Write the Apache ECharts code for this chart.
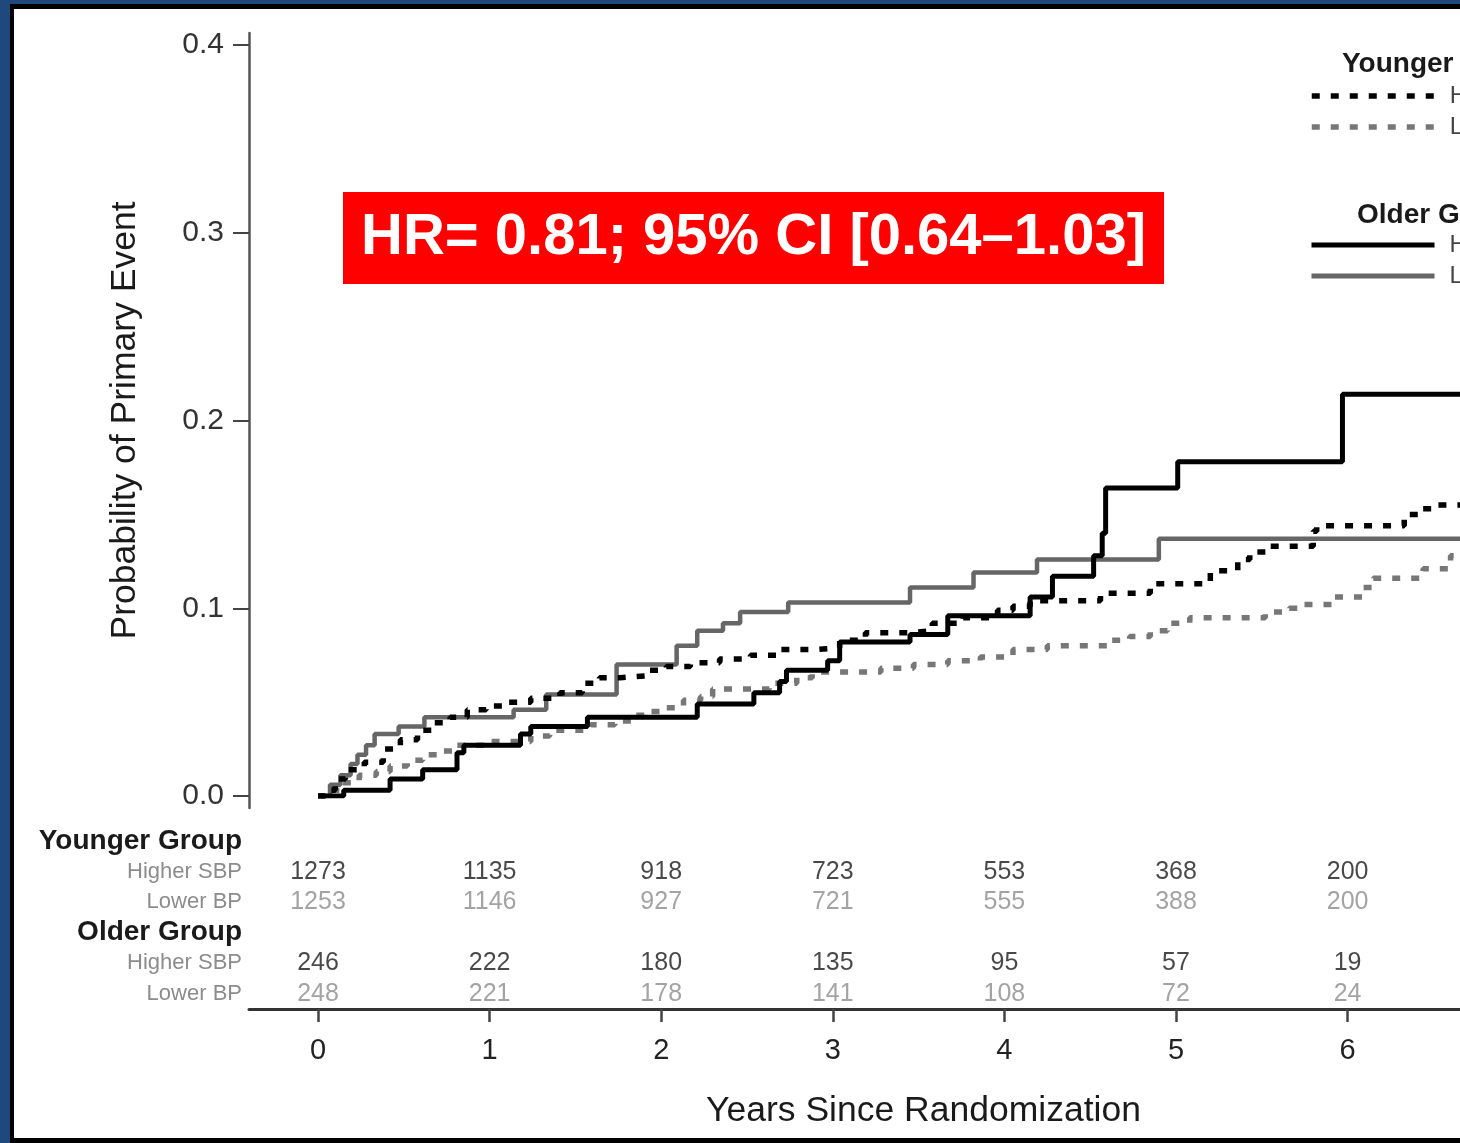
<!DOCTYPE html>
<html>
<head>
<meta charset="utf-8">
<script src="https://cdn.jsdelivr.net/npm/echarts@6/dist/echarts.min.js"></script>
<style>html,body{margin:0;padding:0;background:#fff}#c{width:1460px;height:1143px}</style>
</head>
<body>
<div id="c"></div>
<script>
const FONT = "'Liberation Sans', Arial, Helvetica, sans-serif";

// ---- Kaplan-Meier style step data: [years, cumulative probability] ----
const youngerHigherSBP = [[0,0],[0.04,0.003],[0.10,0.009],[0.16,0.014],[0.27,0.018],[0.38,0.025],[0.48,0.030],[0.58,0.035],[0.67,0.039],[0.77,0.042],[0.87,0.046],[0.98,0.048],[1.09,0.050],[1.24,0.052],[1.41,0.055],[1.54,0.060],[1.64,0.063],[1.76,0.064],[1.92,0.067],[2.03,0.069],[2.17,0.071],[2.34,0.073],[2.52,0.075],[2.69,0.078],[2.90,0.079],[3.04,0.083],[3.19,0.087],[3.45,0.088],[3.58,0.092],[3.76,0.095],[3.96,0.099],[4.05,0.101],[4.15,0.104],[4.56,0.108],[4.85,0.113],[5.20,0.120],[5.36,0.126],[5.43,0.130],[5.53,0.133],[5.80,0.141],[5.82,0.144],[6.33,0.150],[6.44,0.153],[6.52,0.155],[7.0,0.155]];
const youngerLowerBP = [[0,0],[0.07,0.003],[0.16,0.007],[0.24,0.011],[0.34,0.013],[0.42,0.016],[0.52,0.019],[0.61,0.022],[0.71,0.024],[0.80,0.027],[1.00,0.029],[1.24,0.032],[1.35,0.035],[1.59,0.038],[1.73,0.040],[1.85,0.043],[1.93,0.045],[2.03,0.047],[2.13,0.051],[2.23,0.053],[2.30,0.057],[2.63,0.060],[2.79,0.063],[2.88,0.066],[3.28,0.068],[3.47,0.070],[3.67,0.072],[3.86,0.074],[4.05,0.078],[4.25,0.080],[4.62,0.083],[4.73,0.085],[4.85,0.088],[4.95,0.092],[5.08,0.095],[5.52,0.098],[5.66,0.100],[5.74,0.102],[5.91,0.106],[6.09,0.111],[6.15,0.116],[6.44,0.121],[6.60,0.128],[7.0,0.128]];
const olderHigherSBP = [[0,0],[0.15,0.003],[0.42,0.009],[0.61,0.014],[0.81,0.023],[0.85,0.027],[1.18,0.033],[1.24,0.037],[1.57,0.042],[2.21,0.049],[2.54,0.055],[2.69,0.061],[2.73,0.067],[2.97,0.072],[3.04,0.082],[3.45,0.086],[3.67,0.096],[4.15,0.106],[4.28,0.117],[4.52,0.128],[4.57,0.140],[4.59,0.164],[5.01,0.178],[5.97,0.214],[7.0,0.214]];
const olderLowerBP = [[0,0],[0.07,0.006],[0.13,0.011],[0.19,0.017],[0.23,0.022],[0.28,0.027],[0.33,0.033],[0.47,0.037],[0.62,0.042],[1.14,0.046],[1.33,0.054],[1.74,0.070],[2.09,0.080],[2.21,0.088],[2.36,0.092],[2.46,0.098],[2.74,0.103],[3.45,0.111],[3.82,0.119],[4.19,0.126],[4.90,0.137],[7.0,0.137]];

// ---- Number at risk table ----
const riskYears = [0,1,2,3,4,5,6];
const riskYoungerHigher = [1273,1135,918,723,553,368,200];
const riskYoungerLower  = [1253,1146,927,721,555,388,200];
const riskOlderHigher   = [246,222,180,135,95,57,19];
const riskOlderLower    = [248,221,178,141,108,72,24];
const riskRows = ['Younger Group','Younger Higher SBP','Younger Lower BP','Older Group','Older Higher SBP','Older Lower BP'];
const riskRowText = {'Younger Group':'Younger Group','Younger Higher SBP':'Higher SBP','Younger Lower BP':'Lower BP','Older Group':'Older Group','Older Higher SBP':'Higher SBP','Older Lower BP':'Lower BP'};
const legendText = {'Younger Higher SBP':'Higher SBP','Younger Lower BP':'Lower BP','Older Higher SBP':'Higher SBP','Older Lower BP':'Lower BP'};

const hrText = 'HR= 0.81; 95% CI [0.64\u20131.03]';
const yTitle = 'Probability of Primary Event';
const xTitle = 'Years Since Randomization';

const chart = echarts.init(document.getElementById('c'), null, {renderer:'canvas'});

function riskSeries(name, row, vals, color) {
  return {
    name: name, type: 'scatter', xAxisIndex: 3, yAxisIndex: 3,
    symbolSize: 1, itemStyle: {color: 'rgba(0,0,0,0)'}, silent: true,
    data: riskYears.map((yr, i) => [yr, row, vals[i]]),
    encode: {x: 0, y: 1},
    label: {show: true, position: 'inside', formatter: p => String(p.value[2]),
      fontSize: 25, color: color, fontFamily: FONT}
  };
}

const hidden = {show:false};
const legendCommon = {
  orient: 'vertical', left: 1309, padding: 0, itemWidth: 123, itemHeight: 14, itemGap: 7, selectedMode: false,
  formatter: n => legendText[n], itemStyle: {opacity: 0},
  textStyle: {fontSize: 24, color: '#444', fontFamily: FONT, lineHeight: 24, padding: [0,0,0,10]}
};
const option = {
  backgroundColor: '#ffffff',
  animation: false,
  title: [
    {text: hrText, left: 343, top: 192, backgroundColor: '#ff0000', padding: [16, 18],
      textStyle: {color: '#ffffff', fontSize: 58, fontWeight: 'bold', fontFamily: FONT, lineHeight: 60}},
    {text: 'Younger Group', left: 1342, top: 50, padding: 0,
      textStyle: {color: '#1a1a1a', fontSize: 28, fontWeight: 'bold', fontFamily: FONT}},
    {text: 'Older Group', left: 1357, top: 201, padding: 0,
      textStyle: {color: '#1a1a1a', fontSize: 28, fontWeight: 'bold', fontFamily: FONT}}
  ],
  legend: [
    Object.assign({}, legendCommon, {data: ['Younger Higher SBP','Younger Lower BP'], top: 84, lineStyle: {width: 5.5}}),
    Object.assign({}, legendCommon, {data: ['Older Higher SBP','Older Lower BP'], top: 233, lineStyle: {width: 5}})
  ],
  grid: [
    {left: 318, top: 45, width: 1201.2, height: 751, outerBoundsMode: 'none'},   // plot
    {left: 249, top: 45, width: 100, height: 751, outerBoundsMode: 'none'},      // y ticks/labels
    {left: 249, top: 33, width: 100, height: 775, outerBoundsMode: 'none'},      // y axis line
    {left: 318, top: 826, width: 1201.2, height: 183, outerBoundsMode: 'none'},  // risk table + x ticks
    {left: 249, top: 826, width: 1349, height: 183, outerBoundsMode: 'none'}     // x axis line + title
  ],
  xAxis: [
    {gridIndex: 0, type: 'value', min: 0, max: 7, show: false},
    {gridIndex: 1, type: 'value', min: 0, max: 1, show: false},
    {gridIndex: 2, type: 'value', min: 0, max: 1, show: false},
    {gridIndex: 3, type: 'value', min: 0, max: 7, interval: 1,
      axisLine: hidden, splitLine: hidden,
      axisTick: {show: true, length: 13, lineStyle: {color: '#444', width: 2.5}},
      axisLabel: {fontSize: 29, color: '#222', margin: 27, fontFamily: FONT}},
    {gridIndex: 4, type: 'value', min: 0, max: 1, splitLine: hidden, axisTick: hidden, axisLabel: hidden,
      axisLine: {show: true, lineStyle: {color: '#333', width: 3}},
      name: xTitle, nameLocation: 'middle', nameGap: 84,
      nameTextStyle: {fontSize: 35.5, color: '#1a1a1a', fontFamily: FONT}}
  ],
  yAxis: [
    {gridIndex: 0, type: 'value', min: 0, max: 0.4, show: false},
    {gridIndex: 1, type: 'value', min: 0, max: 0.4, interval: 0.1,
      axisLine: hidden, splitLine: hidden,
      axisTick: {show: true, length: 16, lineStyle: {color: '#444', width: 2}},
      axisLabel: {fontSize: 30, color: '#333', margin: 25, fontFamily: FONT, formatter: v => v.toFixed(1)},
      name: yTitle, nameLocation: 'middle', nameGap: 106,
      nameTextStyle: {fontSize: 35.5, color: '#1a1a1a', fontFamily: FONT}},
    {gridIndex: 2, type: 'value', min: 0, max: 1, splitLine: hidden, axisTick: hidden, axisLabel: hidden,
      axisLine: {show: true, lineStyle: {color: '#555', width: 2.5}}},
    {gridIndex: 3, type: 'category', data: riskRows, inverse: true,
      axisLine: hidden, axisTick: hidden, splitLine: hidden,
      axisLabel: {margin: 76, formatter: v => (v.indexOf('Group') >= 0 ? '{h|' + riskRowText[v] + '}' : '{s|' + riskRowText[v] + '}'),
        rich: {h: {fontSize: 28, fontWeight: 'bold', color: '#1a1a1a', fontFamily: FONT},
               s: {fontSize: 22, color: '#8c8c8c', fontFamily: FONT}}}},
    {gridIndex: 4, type: 'value', min: 0, max: 1, show: false}
  ],
  series: [
    {name: 'Younger Higher SBP', type: 'line', step: 'end', symbol: 'none', xAxisIndex: 0, yAxisIndex: 0,
      data: youngerHigherSBP, lineStyle: {color: '#000', width: 5.5, type: [8, 11], cap: 'butt'}, itemStyle: {color: '#000'}, z: 3},
    {name: 'Younger Lower BP', type: 'line', step: 'end', symbol: 'none', xAxisIndex: 0, yAxisIndex: 0,
      data: youngerLowerBP, lineStyle: {color: '#777', width: 5.5, type: [8, 11], cap: 'butt'}, itemStyle: {color: '#777'}, z: 2},
    {name: 'Older Higher SBP', type: 'line', step: 'end', symbol: 'none', xAxisIndex: 0, yAxisIndex: 0,
      data: olderHigherSBP, lineStyle: {color: '#000', width: 5}, itemStyle: {color: '#000'}, z: 4},
    {name: 'Older Lower BP', type: 'line', step: 'end', symbol: 'none', xAxisIndex: 0, yAxisIndex: 0,
      data: olderLowerBP, lineStyle: {color: '#666', width: 4.5}, itemStyle: {color: '#666'}, z: 2},
    riskSeries('risk-yh', 'Younger Higher SBP', riskYoungerHigher, '#1a1a1a'),
    riskSeries('risk-yl', 'Younger Lower BP', riskYoungerLower, '#8c8c8c'),
    riskSeries('risk-oh', 'Older Higher SBP', riskOlderHigher, '#1a1a1a'),
    riskSeries('risk-ol', 'Older Lower BP', riskOlderLower, '#8c8c8c')
  ],
  graphic: [
    {type: 'rect', z: 100, silent: true, shape: {x: 0, y: 0, width: 10, height: 1143}, style: {fill: '#1f497d'}},
    {type: 'rect', z: 100, silent: true, shape: {x: 0, y: 0, width: 1460, height: 4}, style: {fill: '#1f497d'}},
    {type: 'rect', z: 100, silent: true, shape: {x: 10, y: 4, width: 4, height: 1139}, style: {fill: '#000'}},
    {type: 'rect', z: 100, silent: true, shape: {x: 10, y: 4, width: 1450, height: 5}, style: {fill: '#000'}},
    {type: 'rect', z: 100, silent: true, shape: {x: 10, y: 1138, width: 1450, height: 5}, style: {fill: '#000'}}
  ]
};
chart.setOption(option);
</script>
</body>
</html>
